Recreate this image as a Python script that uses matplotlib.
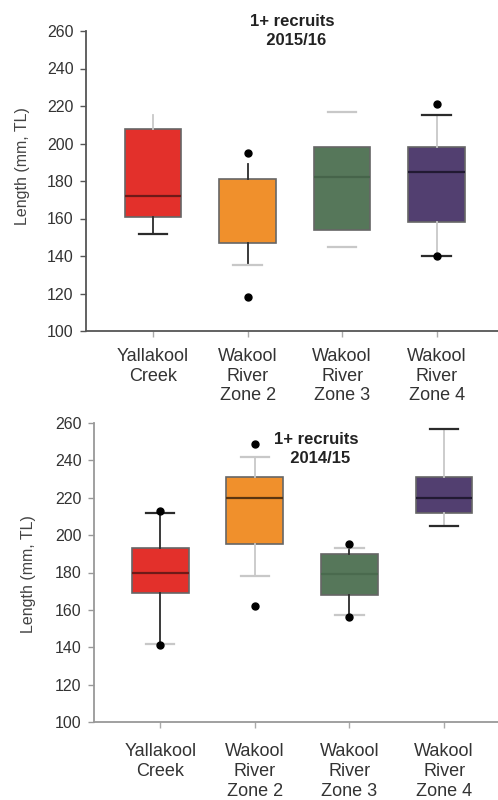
import matplotlib
matplotlib.use("Agg")
import matplotlib.pyplot as plt

plt.rcParams['font.family'] = ['Liberation Sans', 'DejaVu Sans']

categories = ["Yallakool\nCreek", "Wakool\nRiver\nZone 2", "Wakool\nRiver\nZone 3", "Wakool\nRiver\nZone 4"]
colors = ["#E3302B", "#F0902C", "#56775A", "#523F70"]

# 2015/16 panel: whislo, q1, med, q3, whishi, fliers
top_whislo = [152, 135, 145, 140]
top_q1 = [161, 147, 154, 158]
top_med = [172, 165, 182, 185]
top_q3 = [208, 181, 198, 198]
top_whishi = [215, 189, 217, 215]
top_fliers = [[], [195, 118], [], [221, 140]]

# 2014/15 panel
bot_whislo = [142, 178, 157, 205]
bot_q1 = [169, 195, 168, 212]
bot_med = [180, 220, 179, 220]
bot_q3 = [193, 231, 190, 231]
bot_whishi = [212, 242, 193, 257]
bot_fliers = [[213, 141], [249, 162], [195, 156], []]

yticks = [100, 120, 140, 160, 180, 200, 220, 240, 260]

# per-box line styling (upper, lower colors)
DARK = "#2b2b2b"
LIGHT = "#c8c8c8"
top_style = {
    "whisk": [(LIGHT, DARK), (DARK, DARK), (None, None), (LIGHT, LIGHT)],
    "cap": [(None, DARK), (None, LIGHT), (LIGHT, LIGHT), (DARK, DARK)],
    "med": ["#6e1a18", None, "#46644a", "#221a33"],
}
bot_style = {
    "whisk": [(DARK, DARK), (LIGHT, LIGHT), (DARK, DARK), (LIGHT, LIGHT)],
    "cap": [(DARK, LIGHT), (LIGHT, LIGHT), (LIGHT, LIGHT), (DARK, DARK)],
    "med": ["#6e1a18", "#5a3510", "#4a6a4e", "#221a33"],
}

fig = plt.figure(figsize=(4.98, 8.0), dpi=100)
W, H = 498, 800


def make_panel(rect, whislo, q1, med, q3, whishi, fliers, style, xlim, spine_col, xpad):
    ax = fig.add_axes(rect)
    stats = []
    for i in range(len(categories)):
        stats.append(dict(whislo=whislo[i], q1=q1[i], med=med[i], q3=q3[i],
                          whishi=whishi[i], fliers=fliers[i]))
    pos = list(range(1, len(categories) + 1))
    b = ax.bxp(stats, positions=pos, widths=0.6, patch_artist=True,
               showfliers=True,
               flierprops=dict(marker='o', markerfacecolor='black',
                               markeredgecolor='black', markersize=5),
               whiskerprops=dict(linewidth=1.3),
               capprops=dict(linewidth=1.6),
               medianprops=dict(linewidth=1.6),
               boxprops=dict(linewidth=1.2))
    for i, patch in enumerate(b['boxes']):
        patch.set_facecolor(colors[i])
        patch.set_edgecolor("#666666")
    for i in range(len(categories)):
        lo_w, hi_w = b['whiskers'][2 * i], b['whiskers'][2 * i + 1]
        up_c, low_c = style['whisk'][i]
        for line, c in ((hi_w, up_c), (lo_w, low_c)):
            if c is None:
                line.set_visible(False)
            else:
                line.set_color(c)
        lo_cap, hi_cap = b['caps'][2 * i], b['caps'][2 * i + 1]
        up_c, low_c = style['cap'][i]
        for line, c in ((hi_cap, up_c), (lo_cap, low_c)):
            if c is None:
                line.set_visible(False)
            else:
                line.set_color(c)
        mc = style['med'][i]
        if mc is None:
            b['medians'][i].set_visible(False)
        else:
            b['medians'][i].set_color(mc)
    ax.set_xlim(*xlim)
    ax.set_ylim(100, 260)
    ax.set_yticks(yticks)
    ax.set_xticks(pos)
    ax.set_xticklabels(categories, fontsize=13, color="#333333", linespacing=1.22)
    ax.tick_params(axis='y', labelsize=11.5, colors=spine_col, labelcolor="#333333",
                   length=4, width=1, pad=5)
    ax.tick_params(axis='x', colors="#aaaaaa", labelcolor="#333333", length=4, width=1, pad=xpad)
    for s in ('top', 'right'):
        ax.spines[s].set_visible(False)
    for s in ('left', 'bottom'):
        ax.spines[s].set_color(spine_col)
        ax.spines[s].set_linewidth(1.3)
    return ax


ax1 = make_panel([86 / W, 1 - 331 / H, 1 - 86 / W, 300 / H],
                 top_whislo, top_q1, top_med, top_q3, top_whishi, top_fliers,
                 top_style, (0.29, 4.65), "#555555", 8)
ax2 = make_panel([94 / W, 1 - 722 / H, 1 - 94 / W, 299 / H],
                 bot_whislo, bot_q1, bot_med, bot_q3, bot_whishi, bot_fliers,
                 bot_style, (0.30, 4.57), "#999999", 11)

fig.text(292 / W, 1 - 31 / H, "1+ recruits\n  2015/16", ha='center', va='center',
         fontsize=12, fontweight='bold', color="#222222", linespacing=1.35)
fig.text(316 / W, 1 - 449 / H, "1+ recruits\n  2014/15", ha='center', va='center',
         fontsize=12, fontweight='bold', color="#222222", linespacing=1.35)

fig.text(22 / W, 1 - 166 / H, "Length (mm, TL)", rotation=90, ha='center', va='center',
         fontsize=11.5, color="#444444")
fig.text(29 / W, 1 - 574 / H, "Length (mm, TL)", rotation=90, ha='center', va='center',
         fontsize=11.5, color="#444444")

fig.savefig("out.png", dpi=100)
